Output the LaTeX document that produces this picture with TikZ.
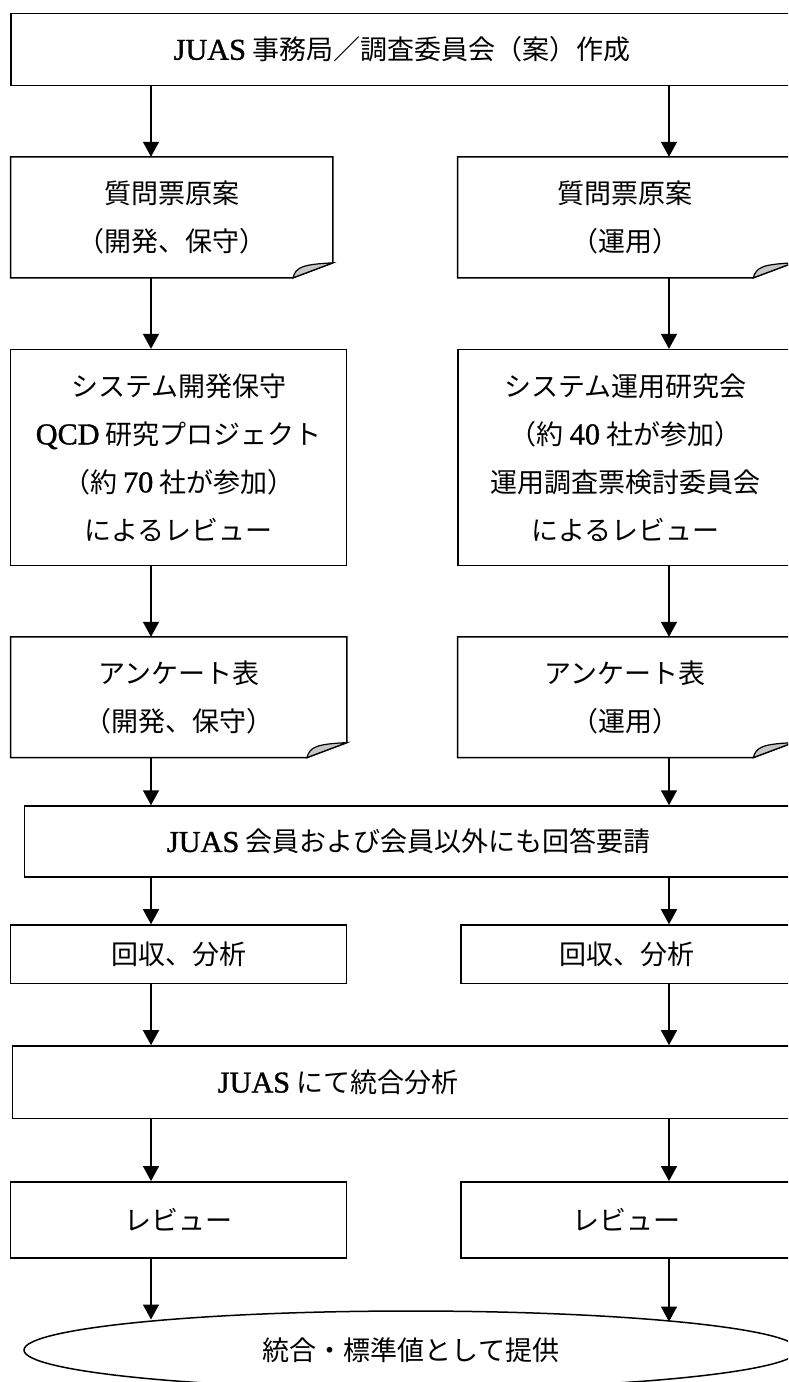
\documentclass[tikz,border=0pt]{standalone}
\usepackage{fontspec}
\usetikzlibrary{arrows.meta,shapes.geometric}
\newfontfamily\jp{Noto Sans CJK JP}
\newfontfamily\latnfont[FakeBold=1.2,Scale=1.12]{Liberation Serif}
\newcommand{\latn}[1]{{\latnfont #1}}

\tikzset{
  box/.style={draw, line width=1.5pt, inner sep=0pt, align=center},
  doc/.style={inner sep=0pt, align=center},
  flow/.style={-{Triangle[length=15pt,width=16pt]}, line width=1.5pt},
}

% outline of a document block with a curled corner
\newcommand{\docframe}[1]{%
  \draw[line width=1.5pt] (#1.north west) -- (#1.north east) -- ([yshift=15pt]#1.south east)
    -- ([xshift=-40pt]#1.south east) -- (#1.south west) -- cycle;
  \filldraw[fill=gray!45, line width=1.2pt] ([xshift=-40pt]#1.south east)
    .. controls ([xshift=-37pt,yshift=11pt]#1.south east) and ([xshift=-30pt,yshift=13.5pt]#1.south east) .. ([yshift=15pt]#1.south east) -- cycle;
}

\begin{document}
\begin{tikzpicture}[x=1pt, y=-1pt, font=\jp\fontsize{27}{48}\selectfont]
		\useasboundingbox (0,0) rectangle (788,1382);
		\clip (0,0) rectangle (788,1382);
		\coordinate (lx) at (151,0);
		\coordinate (rx) at (669,0);

		% Draw the start block
		\node (start) [box, minimum width=782.3pt, minimum height=72.3pt] at (401.9,49.5) {\latn{JUAS} 事務局／調査委員会（案）作成};

		% Draw the draft questionnaires
		\node (draftdev) [doc, minimum width=322pt, minimum height=120.7pt] at (171.7,217.3) {質問票原案\\（開発、保守）};
		\node (draftops) [doc, minimum width=335.3pt, minimum height=120.7pt] at (625.4,217.3) {質問票原案\\（運用）};

		% Draw the review groups
		\node (revdev) [box, minimum width=336pt, minimum height=216pt] at (178.7,457.6) {システム開発保守\\\latn{QCD} 研究プロジェクト\\（約 \latn{70} 社が参加）\\によるレビュー};
		\node (revops) [box, minimum width=335.3pt, minimum height=216pt] at (625.4,457.6) {システム運用研究会\\（約 \latn{40} 社が参加）\\運用調査票検討委員会\\によるレビュー};

		% Draw the survey forms
		\node (formdev) [doc, minimum width=336pt, minimum height=120.4pt] at (178.7,697.2) {アンケート表\\（開発、保守）};
		\node (formops) [doc, minimum width=335.3pt, minimum height=120.4pt] at (625.4,697.2) {アンケート表\\（運用）};

		% Draw the request block
		\node (request) [box, minimum width=768.7pt, minimum height=71pt] at (408.7,841.5) {\latn{JUAS} 会員および会員以外にも回答要請};

		% Draw the collection blocks
		\node (colldev) [box, minimum width=336pt, minimum height=58.5pt] at (178.7,954.2) {回収、分析};
		\node (collops) [box, minimum width=332.3pt, minimum height=58.5pt] at (626.9,954.2) {回収、分析};

		% Draw the merged analysis
		\node (merge) [box, minimum width=780.7pt, minimum height=72.7pt] at (402.7,1082.3) {};
		\node (mergetxt) at (338,1082.3) {\latn{JUAS} にて統合分析};

		% Draw the final reviews
		\node (checkdev) [box, minimum width=336pt, minimum height=76.2pt] at (178.7,1219.9) {レビュー};
		\node (checkops) [box, minimum width=332.3pt, minimum height=76.2pt] at (626.9,1219.9) {レビュー};

		% Draw the result
		\node (result) [ellipse, draw, line width=1.5pt, inner sep=0pt, minimum width=774pt, minimum height=78pt] at (411,1350) {統合・標準値として提供};

		% Draw the document outlines
		\docframe{draftdev}
		\docframe{draftops}
		\docframe{formdev}
		\docframe{formops}

		% Connect the blocks with arrows
		\draw[flow] (start.south -| lx) -- (draftdev.north -| lx);
		\draw[flow] (start.south -| rx) -- (draftops.north -| rx);
		\draw[flow] (draftdev.south -| lx) -- (revdev.north -| lx);
		\draw[flow] (draftops.south -| rx) -- (revops.north -| rx);
		\draw[flow] (revdev.south -| lx) -- (formdev.north -| lx);
		\draw[flow] (revops.south -| rx) -- (formops.north -| rx);
		\draw[flow] (formdev.south -| lx) -- (request.north -| lx);
		\draw[flow] (formops.south -| rx) -- (request.north -| rx);
		\draw[flow] (request.south -| lx) -- (colldev.north -| lx);
		\draw[flow] (request.south -| rx) -- (collops.north -| rx);
		\draw[flow] (colldev.south -| lx) -- (merge.north -| lx);
		\draw[flow] (collops.south -| rx) -- (merge.north -| rx);
		\draw[flow] (merge.south -| lx) -- (checkdev.north -| lx);
		\draw[flow] (merge.south -| rx) -- (checkops.north -| rx);
		\draw[flow] (checkdev.south -| lx) -- (result.173.6 -| lx);
		\draw[flow] (checkops.south -| rx) -- (result.6.5 -| rx);
\end{tikzpicture}
\end{document}
